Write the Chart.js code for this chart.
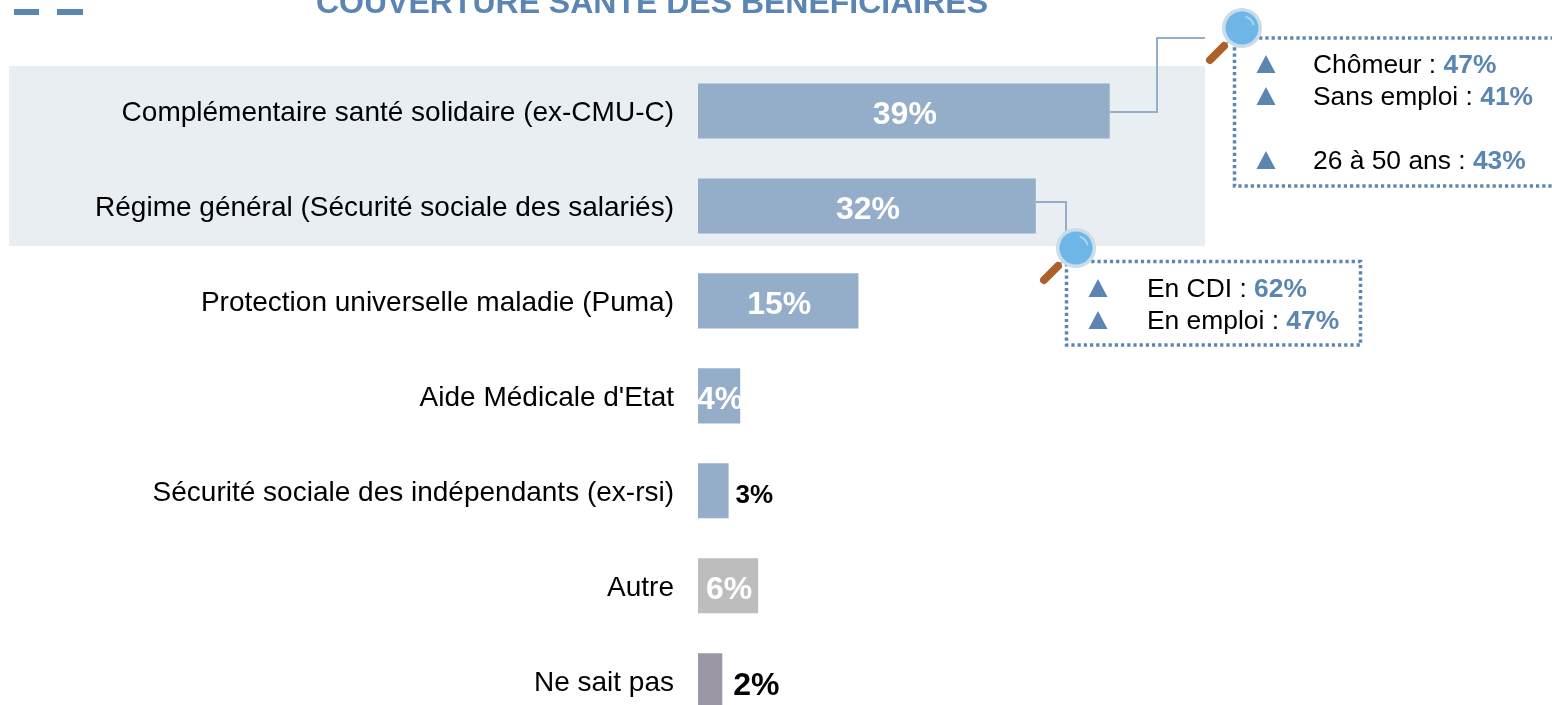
<!DOCTYPE html>
<html lang="fr">
<head>
<meta charset="utf-8">
<title>Couverture santé des bénéficiaires</title>
<script src="https://cdn.jsdelivr.net/npm/chart.js@4"></script>
<style>
  html, body { margin: 0; padding: 0; width: 1552px; height: 705px; overflow: hidden; background: #fff; }
  canvas { display: block; }
</style>
</head>
<body>
<canvas id="coverageChart" width="1552" height="769"></canvas>
<script>
const categories = [
  "Complémentaire santé solidaire (ex-CMU-C)",
  "Régime général (Sécurité sociale des salariés)",
  "Protection universelle maladie (Puma)",
  "Aide Médicale d'Etat",
  "Sécurité sociale des indépendants (ex-rsi)",
  "Autre",
  "Ne sait pas"
];
const shares = [39, 32, 15.2, 4, 2.9, 5.7, 2.3];
const shareLabels = ["39%", "32%", "15%", "4%", "3%", "6%", "2%"];

const chartTitle = "COUVERTURE SANTÉ DES BÉNÉFICIAIRES";
const calloutTop = [["Chômeur : ", "47%"], ["Sans emploi : ", "41%"], ["26 à 50 ans : ", "43%"]];
const calloutBottom = [["En CDI : ", "62%"], ["En emploi : ", "47%"]];

const BLUE = "#5B86B3";
const BAR_BLUE = "#94AEC9";
const barColors = [BAR_BLUE, BAR_BLUE, BAR_BLUE, BAR_BLUE, BAR_BLUE, "#BDBDBD", "#9C97A5"];

// Light band behind the two highlighted rows
const bandPlugin = {
  id: "band",
  beforeDraw(chart) {
    const ctx = chart.ctx;
    ctx.save();
    ctx.fillStyle = "#E9EEF3";
    ctx.fillRect(9, 66, 1196, 180);
    ctx.restore();
  }
};

// Percentages on or next to the bars
const shareLabelPlugin = {
  id: "shareLabels",
  afterDatasetsDraw(chart) {
    const ctx = chart.ctx;
    const bars = chart.getDatasetMeta(0).data;
    ctx.save();
    ctx.textBaseline = "alphabetic";
    bars.forEach(function(bar, i) {
      if (i === 4) {
        ctx.font = "bold 26px 'Liberation Sans'";
        ctx.fillStyle = "#000";
        ctx.textAlign = "left";
        ctx.fillText(shareLabels[i], bar.x + 7, bar.y + 12);
      } else if (i === 6) {
        ctx.font = "bold 32px 'Liberation Sans'";
        ctx.fillStyle = "#000";
        ctx.textAlign = "left";
        ctx.fillText(shareLabels[i], bar.x + 11, bar.y + 14);
      } else {
        ctx.font = "bold 32px 'Liberation Sans'";
        ctx.fillStyle = "#fff";
        ctx.textAlign = "center";
        ctx.fillText(shareLabels[i], (bar.x + bar.base) / 2 + 1, bar.y + 13);
      }
    });
    ctx.restore();
  }
};

function drawMagnifier(ctx, cx, cy) {
  ctx.lineCap = "round";
  ctx.strokeStyle = "#9FB4C4";
  ctx.lineWidth = 2;
  ctx.beginPath();
  ctx.moveTo(cx - 12, cy + 12);
  ctx.lineTo(cx - 18, cy + 18);
  ctx.stroke();
  ctx.strokeStyle = "#AD6029";
  ctx.lineWidth = 8;
  ctx.beginPath();
  ctx.moveTo(cx - 18, cy + 18);
  ctx.lineTo(cx - 32, cy + 32);
  ctx.stroke();
  ctx.fillStyle = "#C9DCEB";
  ctx.beginPath();
  ctx.arc(cx, cy, 20, 0, Math.PI * 2);
  ctx.fill();
  ctx.fillStyle = "#6DB6E6";
  ctx.beginPath();
  ctx.arc(cx, cy, 16.5, 0, Math.PI * 2);
  ctx.fill();
  ctx.strokeStyle = "#A9D6F2";
  ctx.lineWidth = 2;
  ctx.beginPath();
  ctx.arc(cx, cy, 12, -1.2, -0.3);
  ctx.stroke();
}

function drawTriangle(ctx, x, baseline) {
  ctx.fillStyle = BLUE;
  ctx.beginPath();
  ctx.moveTo(x - 9.5, baseline);
  ctx.lineTo(x + 9.5, baseline);
  ctx.lineTo(x, baseline - 18);
  ctx.closePath();
  ctx.fill();
}

function drawCalloutLine(ctx, parts, triX, textX, baseline) {
  drawTriangle(ctx, triX, baseline);
  ctx.font = "26.4px 'Liberation Sans'";
  ctx.fillStyle = "#000";
  ctx.textAlign = "left";
  ctx.fillText(parts[0], textX, baseline);
  const w = ctx.measureText(parts[0]).width;
  ctx.font = "bold 26.4px 'Liberation Sans'";
  ctx.fillStyle = BLUE;
  ctx.fillText(parts[1], textX + w, baseline);
}

// Title, connectors, dotted boxes and magnifiers
const annotationPlugin = {
  id: "annotations",
  afterDraw(chart) {
    const ctx = chart.ctx;
    ctx.save();

    // cropped logo at the top left
    ctx.fillStyle = BLUE;
    ctx.fillRect(14, 9, 25, 6);
    ctx.fillRect(57, 9, 26, 6);

    ctx.font = "bold 32px 'Liberation Sans'";
    ctx.fillStyle = BLUE;
    ctx.textAlign = "center";
    ctx.textBaseline = "alphabetic";
    ctx.fillText(chartTitle, 652, 13);

    const bars = chart.getDatasetMeta(0).data;
    ctx.strokeStyle = BAR_BLUE;
    ctx.lineWidth = 2;
    ctx.beginPath();
    ctx.moveTo(bars[0].x, 112);
    ctx.lineTo(1157, 112);
    ctx.lineTo(1157, 38);
    ctx.lineTo(1205, 38);
    ctx.moveTo(bars[1].x, 202);
    ctx.lineTo(1066, 202);
    ctx.lineTo(1066, 235);
    ctx.stroke();

    ctx.strokeStyle = BLUE;
    ctx.lineWidth = 3.5;
    ctx.setLineDash([3.2, 3]);
    ctx.beginPath();
    ctx.moveTo(1560, 38);
    ctx.lineTo(1234.5, 38);
    ctx.lineTo(1234.5, 186);
    ctx.lineTo(1560, 186);
    ctx.stroke();
    ctx.strokeRect(1066.5, 261.5, 294, 83.5);
    ctx.setLineDash([]);

    drawCalloutLine(ctx, calloutTop[0], 1266, 1313, 73);
    drawCalloutLine(ctx, calloutTop[1], 1266, 1313, 105);
    drawCalloutLine(ctx, calloutTop[2], 1266, 1313, 169);
    drawCalloutLine(ctx, calloutBottom[0], 1098, 1147, 297);
    drawCalloutLine(ctx, calloutBottom[1], 1098, 1147, 329);

    drawMagnifier(ctx, 1242, 28);
    drawMagnifier(ctx, 1076, 248);
    ctx.restore();
  }
};

new Chart(document.getElementById("coverageChart").getContext("2d"), {
  type: "bar",
  data: {
    labels: categories,
    datasets: [{
      data: shares,
      backgroundColor: barColors,
      barPercentage: 0.58,
      categoryPercentage: 1
    }]
  },
  plugins: [bandPlugin, shareLabelPlugin, annotationPlugin],
  options: {
    indexAxis: "y",
    responsive: false,
    animation: false,
    layout: { padding: { top: 63.5 } },
    plugins: {
      legend: { display: false },
      tooltip: { enabled: false }
    },
    scales: {
      x: { display: false, min: 0, max: 80.9 },
      y: {
        afterFit: function(scale) { scale.width = 698; },
        grid: { display: false, drawTicks: false },
        border: { display: false },
        ticks: {
          padding: 24,
          labelOffset: 2.5,
          color: "#000",
          autoSkip: false,
          font: { family: "'Liberation Sans'", size: 28 }
        }
      }
    }
  }
});
</script>
</body>
</html>
